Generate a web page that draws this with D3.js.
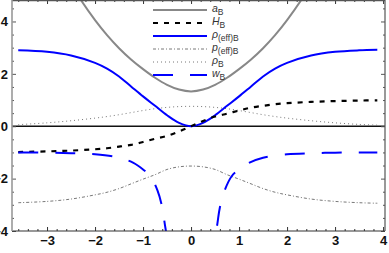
<!DOCTYPE html>
<html lang="en">
    <head>
        <meta charset="utf-8">
        <style>
            body { margin: 0; background: white; }
            text { font-family: "Liberation Sans", Arial, sans-serif; }
            .tick text { font-size: 13px; font-weight: bold; fill: #111; }
        </style>
        <script src="https://d3js.org/d3.v7.min.js"></script>
        <title>Background quantities</title>
    </head>
    <body>
        <div id="chart"></div>
        <script>
            // sample points
            var xs      = [-3.6, -3, -2.5, -2, -1.75, -1.5, -1.25, -1, -0.75, -0.5, -0.25, 0, 0.25, 0.5, 0.75, 1, 1.25, 1.5, 1.75, 2, 2.5, 3, 3.5, 3.88];
            var aB      = [null, 7.0, 5.4, 4.05, 3.48, 2.98, 2.55, 2.18, 1.85, 1.58, 1.4, 1.33, 1.4, 1.58, 1.85, 2.18, 2.55, 2.98, 3.48, 4.05, 5.4, 7.0, null, null];
            var HB      = [-0.985, -0.96, -0.93, -0.88, -0.84, -0.78, -0.71, -0.6, -0.48, -0.37, -0.2, 0, 0.2, 0.37, 0.48, 0.6, 0.71, 0.78, 0.84, 0.88, 0.93, 0.96, 0.98, 0.99];
            var rhoEff  = [2.9, 2.84, 2.7, 2.42, 2.2, 1.9, 1.52, 1.14, 0.78, 0.42, 0.13, 0, 0.13, 0.42, 0.78, 1.14, 1.52, 1.9, 2.2, 2.42, 2.7, 2.84, 2.9, 2.92];
            var pEff    = [-2.92, -2.87, -2.78, -2.62, -2.52, -2.38, -2.2, -2.02, -1.85, -1.65, -1.55, -1.52, -1.55, -1.65, -1.85, -2.02, -2.2, -2.38, -2.52, -2.62, -2.78, -2.87, -2.92, -2.94];
            var rhoB    = [0.06, 0.13, 0.21, 0.31, 0.37, 0.44, 0.52, 0.6, 0.67, 0.72, 0.75, 0.76, 0.75, 0.72, 0.67, 0.6, 0.52, 0.44, 0.37, 0.31, 0.21, 0.13, 0.07, 0.04];
            var wLeftX  = [-3.6, -3, -2.5, -2, -1.5, -1.2, -1, -0.85, -0.7, -0.6, -0.55, -0.5, -0.45];
            var wLeft   = [-1.0, -1.01, -1.03, -1.07, -1.2, -1.4, -1.65, -1.9, -2.45, -3.1, -3.7, -4.3, -5.2];
            var wRightX = [0.45, 0.5, 0.55, 0.6, 0.7, 0.85, 1, 1.2, 1.5, 2, 2.5, 3, 3.5, 3.88];
            var wRight  = [-5.2, -4.3, -3.7, -3.1, -2.45, -1.9, -1.65, -1.4, -1.2, -1.07, -1.03, -1.01, -1.0, -1.0];
            var xTicks  = [-3, -2, -1, 0, 1, 2, 3, 4];
            var yTicks  = [-4, -2, 0, 2, 4];

            var W = 389, H = 253;
            var pLeft = 12, pRight = 385, pTop = 0, pBottom = 231;

            var svg = d3.select("#chart")
                .append("svg")
                    .attr("width", W)
                    .attr("height", H);

            var x = d3.scaleLinear().domain([-3.73, 4.04]).range([pLeft, pRight]);
            var y = d3.scaleLinear().domain([-4, 4.82]).range([pBottom, pTop]);

            svg.append("clipPath").attr("id", "clip")
                .append("rect")
                    .attr("x", pLeft).attr("y", pTop)
                    .attr("width", pRight - pLeft).attr("height", pBottom - pTop);

            var plot = svg.append("g").attr("clip-path", "url(#clip)");

            // zero line
            plot.append("line")
                .attr("x1", pLeft).attr("x2", pRight)
                .attr("y1", y(0)).attr("y2", y(0))
                .attr("stroke", "#111").attr("stroke-width", 1.3);

            function pts(xv, yv) {
                return xv.map(function(d, i) { return [d, yv[i]]; });
            }
            var line = d3.line()
                .defined(function(d) { return d[1] != null; })
                .x(function(d) { return x(d[0]); })
                .y(function(d) { return y(d[1]); })
                .curve(d3.curveCatmullRom);

            var series = [
                {key: "a",    data: pts(xs, aB),     color: "#888", width: 2,   dash: null},
                {key: "rhoB", data: pts(xs, rhoB),   color: "#777", width: 1,   dash: "1,3"},
                {key: "pEff", data: pts(xs, pEff),   color: "#555", width: 0.8, dash: "3,2,1,2"},
                {key: "rho",  data: pts(xs, rhoEff), color: "#0000ff", width: 2, dash: null},
                {key: "H",    data: pts(xs, HB),     color: "#000", width: 2.2, dash: "5,6"},
                {key: "wL",   data: pts(wLeftX, wLeft),   color: "#0000ff", width: 2, dash: "20,17"},
                {key: "wR",   data: pts(wRightX, wRight), color: "#0000ff", width: 2, dash: "20,17"}
            ];

            plot.selectAll(".curve")
                .data(series)
                .enter()
                .append("path")
                    .attr("class", "curve")
                    .attr("fill", "none")
                    .attr("stroke", function(d) { return d.color; })
                    .attr("stroke-width", function(d) { return d.width; })
                    .attr("stroke-dasharray", function(d) { return d.dash; })
                    .attr("d", function(d) { return line(d.data); });

            // frame ticks (inward)
            var xMinor = d3.range(-3.6, 4.01, 0.2).filter(function(v) { return Math.abs(v - Math.round(v)) > 1e-6; });
            var yMinor = d3.range(-4, 4.81, 0.5).filter(function(v) { return Math.abs(v - Math.round(v / 2) * 2) > 1e-6; });

            function styleAxis(g, color) {
                g.select(".domain").remove();
                g.selectAll(".tick line").attr("stroke", color);
            }

            svg.append("g")
                .attr("transform", "translate(0," + pBottom + ")")
                .call(d3.axisBottom(x).tickValues(xTicks).tickSize(-4).tickPadding(5))
                .call(styleAxis, "#333");
            svg.append("g")
                .attr("transform", "translate(0," + pBottom + ")")
                .call(d3.axisBottom(x).tickValues(xMinor).tickSize(-2).tickFormat(""))
                .call(styleAxis, "#333");
            svg.append("g")
                .attr("transform", "translate(0," + pTop + ")")
                .call(d3.axisTop(x).tickValues(xTicks).tickSize(-4).tickFormat(""))
                .call(styleAxis, "#333");
            svg.append("g")
                .attr("transform", "translate(0," + pTop + ")")
                .call(d3.axisTop(x).tickValues(xMinor).tickSize(-2).tickFormat(""))
                .call(styleAxis, "#333");

            svg.append("g")
                .attr("transform", "translate(" + pLeft + ",0)")
                .call(d3.axisLeft(y).tickValues(yTicks).tickSize(-4).tickPadding(4))
                .call(styleAxis, "#555");
            svg.append("g")
                .attr("transform", "translate(" + pLeft + ",0)")
                .call(d3.axisLeft(y).tickValues(yMinor).tickSize(-2).tickFormat(""))
                .call(styleAxis, "#555");
            svg.append("g")
                .attr("transform", "translate(" + pRight + ",0)")
                .call(d3.axisRight(y).tickValues(yTicks).tickSize(-4).tickFormat(""))
                .call(styleAxis, "#555");
            svg.append("g")
                .attr("transform", "translate(" + pRight + ",0)")
                .call(d3.axisRight(y).tickValues(yMinor).tickSize(-2).tickFormat(""))
                .call(styleAxis, "#555");

            svg.selectAll(".tick text").attr("font-family", "Liberation Sans, Arial, sans-serif");

            // frame
            svg.append("line").attr("x1", pLeft).attr("x2", pRight).attr("y1", pTop + 0.5).attr("y2", pTop + 0.5)
                .attr("stroke", "#555").attr("stroke-width", 1.5);
            svg.append("line").attr("x1", pLeft).attr("x2", pRight).attr("y1", pBottom).attr("y2", pBottom)
                .attr("stroke", "#333").attr("stroke-width", 1.2);
            svg.append("line").attr("x1", pLeft).attr("x2", pLeft).attr("y1", pTop).attr("y2", pBottom)
                .attr("stroke", "#999").attr("stroke-width", 1.6);
            svg.append("line").attr("x1", pRight).attr("x2", pRight).attr("y1", pTop).attr("y2", pBottom)
                .attr("stroke", "#555").attr("stroke-width", 1.2);

            // legend
            var legend = [
                {main: "a",  sub: "B",      color: "#888", width: 2,   dash: null},
                {main: "H",  sub: "B",      color: "#000", width: 2,   dash: "5,6"},
                {main: "ρ",  sub: "(eff)B", color: "#0000ff", width: 2, dash: null},
                {main: "p",  sub: "(eff)B", color: "#555", width: 0.8, dash: "3,2,1,2"},
                {main: "ρ",  sub: "B",      color: "#777", width: 1,   dash: "1,3"},
                {main: "w",  sub: "B",      color: "#0000ff", width: 2, dash: "20,17"}
            ];
            var lg = svg.append("g").selectAll("g")
                .data(legend)
                .enter()
                .append("g")
                    .attr("transform", function(d, i) { return "translate(0," + (10 + i * 13) + ")"; });
            lg.append("line")
                .attr("x1", 153).attr("x2", 207)
                .attr("stroke", function(d) { return d.color; })
                .attr("stroke-width", function(d) { return d.width; })
                .attr("stroke-dasharray", function(d) { return d.dash; });
            var lt = lg.append("text")
                .attr("x", 212).attr("y", 2)
                .attr("font-size", 10.5)
                .attr("fill", "#333");
            lt.append("tspan").attr("font-style", "italic").text(function(d) { return d.main; });
            lt.append("tspan").attr("font-size", 8.5).attr("dy", 3).text(function(d) { return d.sub; });
        </script>
    </body>
</html>
